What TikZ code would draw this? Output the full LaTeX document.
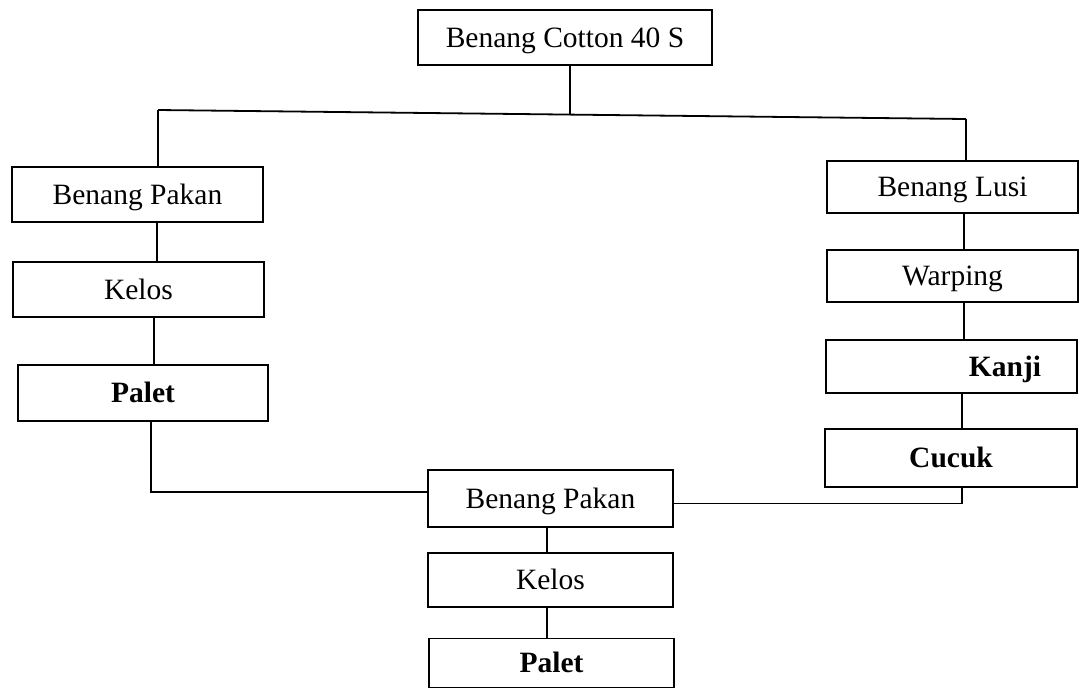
\documentclass[tikz,border=0pt]{standalone}
\usepackage{fontspec}
\setmainfont{Liberation Serif}
\begin{document}
\begin{tikzpicture}[x=1pt,y=-1pt,
  box/.style={draw=black, line width=1.8pt, inner sep=0pt, align=center,
    text height=22pt, text depth=2.5pt,
    font=\fontsize{29.5}{34}\selectfont},
  bbox/.style={box, font=\fontsize{29.5}{34}\selectfont\bfseries},
  conn/.style={draw=black, line width=1.8pt}]
\useasboundingbox (0,0) rectangle (1083,689);
% top
\node[box, minimum width=294pt, minimum height=55pt] (top) at (565,37.5) {Benang Cotton 40 S};
% left column
\node[box, minimum width=251pt, minimum height=55pt] (lbp) at (137.5,194.5) {Benang Pakan};
\node[box, minimum width=251pt, minimum height=55pt] (lkel) at (138.5,289.5) {Kelos};
\node[bbox, minimum width=250pt, minimum height=56pt] (lpal) at (143,393) {Palet};
% right column
\node[box, minimum width=251pt, minimum height=52pt] (rlusi) at (952.5,187) {Benang Lusi};
\node[box, minimum width=251pt, minimum height=52pt] (rwarp) at (952.5,276) {Warping};
\node[bbox, minimum width=251pt, minimum height=53pt] (rkanji) at (951.5,366.5) {\hspace*{107pt}Kanji};
\node[bbox, minimum width=252pt, minimum height=58pt] (rcucuk) at (951,458) {Cucuk};
% bottom column
\node[box, minimum width=245pt, minimum height=57pt] (bbp) at (550.5,498.5) {Benang Pakan};
\node[box, minimum width=245pt, minimum height=54pt] (bkel) at (550.5,580) {Kelos};
\node[bbox, minimum width=245pt, minimum height=49pt] (bpal) at (551.5,663) {Palet};
% junction coordinates
\coordinate (jl) at (158,110);
\coordinate (jr) at (966,119);
\coordinate (jc) at (570,115);
\coordinate (cl1) at (157,0);
\coordinate (cl2) at (154,0);
\coordinate (cl3) at (151,0);
\coordinate (cr1) at (964,0);
\coordinate (cr2) at (962,0);
\coordinate (cb) at (547,0);
% connectors
\draw[conn] (top.south -| jc) -- (jc);
\draw[conn] (jl) -- (jr);
\draw[conn] (jl) -- (jl |- lbp.north);
\draw[conn] (jr) -- (jr |- rlusi.north);
\draw[conn] (lbp.south -| cl1) -- (lkel.north -| cl1);
\draw[conn] (lkel.south -| cl2) -- (lpal.north -| cl2);
\draw[conn] (lpal.south -| cl3) |- ([yshift=6.5pt]bbp.west);
\draw[conn] (rlusi.south -| cr1) -- (rwarp.north -| cr1);
\draw[conn] (rwarp.south -| cr1) -- (rkanji.north -| cr1);
\draw[conn] (rkanji.south -| cr2) -- (rcucuk.north -| cr2);
\draw[conn] (rcucuk.south -| cr2) |- ([yshift=-5pt]bbp.east);
\draw[conn] (bbp.south -| cb) -- (bkel.north -| cb);
\draw[conn] (bkel.south -| cb) -- (bpal.north -| cb);
\end{tikzpicture}
\end{document}
